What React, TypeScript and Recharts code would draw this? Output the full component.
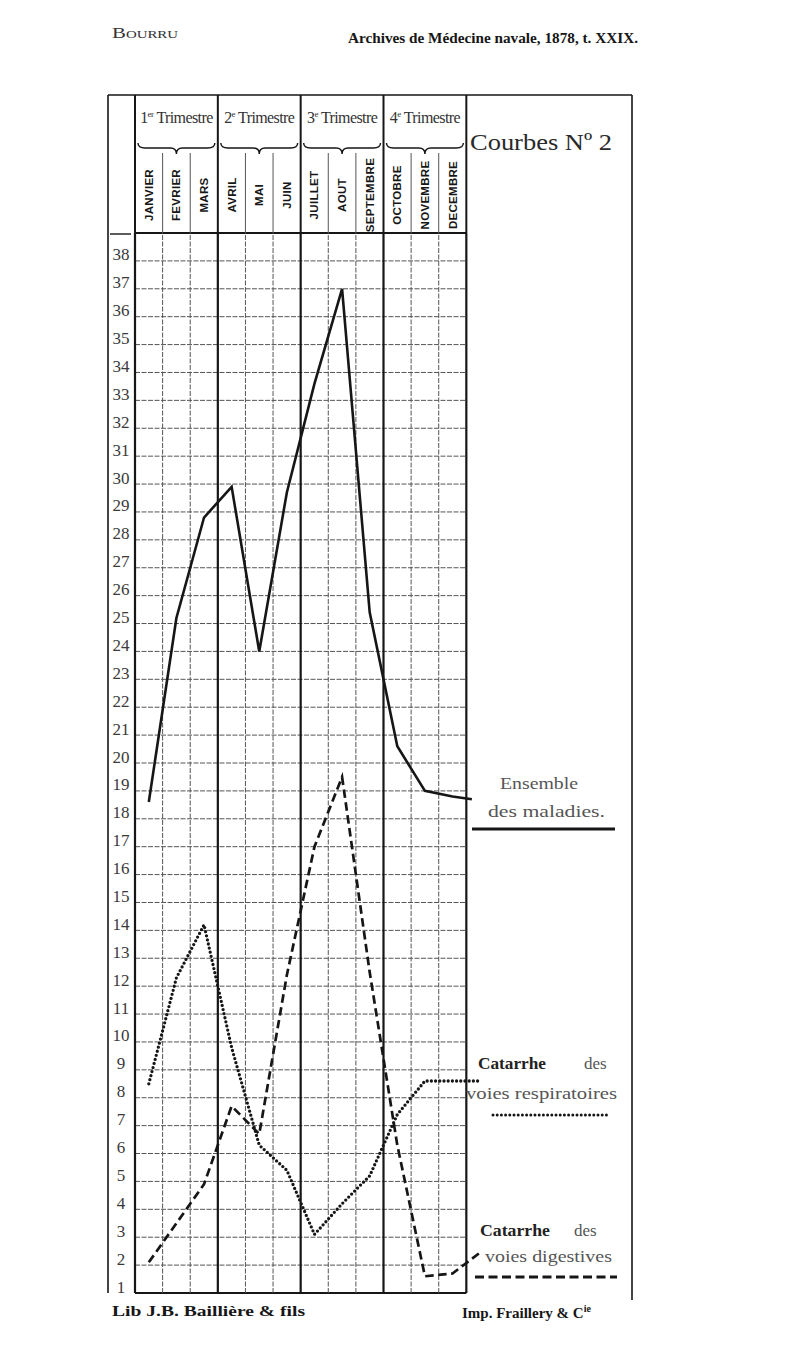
import React from 'react';
import { LineChart, Line, XAxis, YAxis, ReferenceLine } from 'recharts';

// --- data ---
const months = [
  'JANVIER', 'FEVRIER', 'MARS', 'AVRIL', 'MAI', 'JUIN',
  'JUILLET', 'AOUT', 'SEPTEMBRE', 'OCTOBRE', 'NOVEMBRE', 'DECEMBRE',
];
const quarterNums = ['1', '2', '3', '4'];
const quarterSups = ['er', 'e', 'e', 'e'];

const ensemble = [18.6, 25.2, 28.8, 29.9, 24.0, 29.7, 33.6, 37.0, 25.4, 20.6, 19.0, 18.8];
const respiratoires = [8.5, 12.3, 14.2, 9.8, 6.3, 5.4, 3.1, 4.2, 5.2, 7.4, 8.6, 8.6];
const digestives = [2.1, 3.5, 4.9, 7.7, 6.7, 12.4, 17.0, 19.5, 12.5, 6.3, 1.6, 1.7];

// short leads running from December out toward the legend captions
const leadX = [12.2, 12.45, 12.5];
const leadValues = [18.7, 8.6, 2.45];

const yTicks = [
  1, 2, 3, 4, 5, 6, 7, 8, 9, 10, 11, 12, 13, 14, 15, 16, 17, 18, 19,
  20, 21, 22, 23, 24, 25, 26, 27, 28, 29, 30, 31, 32, 33, 34, 35, 36, 37, 38,
];

// --- layout ---
const W = 800;
const H = 1364;
const MARGIN = { top: 95, right: 168, bottom: 71, left: 108 };
const Y_AXIS_W = 27;
const HEADER_H = 138;
const X_MAX = 18;
const Y_MIN = 1;
const Y_MAX = 39;
const PLOT_W = W - MARGIN.left - Y_AXIS_W - MARGIN.right;
const INK = '#161616';
const GRID = '#555';
const SERIF = '"Liberation Serif", "DejaVu Serif", serif';

const monthRows = months.map((m, i) => ({
  x: i + 0.5,
  ensemble: ensemble[i],
  resp: respiratoires[i],
  dig: digestives[i],
}));
const leadRows = [
  { x: leadX[0], ensemble: leadValues[0] },
  { x: leadX[1], resp: leadValues[1] },
  { x: leadX[2], dig: leadValues[2] },
];
const data = [...monthRows, ...leadRows];
const monthTicks = months.map((_, i) => i + 0.5);
const boundaries = months.map((_, i) => i).concat(months.length);

const styles = {
  ensemble: { strokeWidth: 2.6 },
  resp: { strokeWidth: 3.3, strokeDasharray: '0 4.2', strokeLinecap: 'round' as const },
  dig: { strokeWidth: 2.7, strokeDasharray: '8.5 4.5' },
};

function brace(x0: number, x1: number, y: number) {
  const xm = (x0 + x1) / 2;
  return `M${x0},${y} Q${x0},${y + 5} ${x0 + 7},${y + 5} L${xm - 6},${y + 5} Q${xm},${y + 5} ${xm},${y + 11} Q${xm},${y + 5} ${xm + 6},${y + 5} L${x1 - 7},${y + 5} Q${x1},${y + 5} ${x1},${y}`;
}

function MonthTick(props: any) {
  const { x, y, index } = props;
  const colW = PLOT_W / X_MAX;
  const top = y - HEADER_H;
  const left = x - colW / 2;
  const q = Math.floor(index / 3);
  const cy = y - 38;
  return (
    <g>
      {index % 3 === 0 ? (
        <line x1={left} x2={left} y1={top} y2={y} stroke={INK} strokeWidth={2} />
      ) : (
        <line x1={left} x2={left} y1={y - 80} y2={y} stroke={GRID} strokeWidth={1} />
      )}
      {index === months.length - 1 && (
        <line x1={x + colW / 2} x2={x + colW / 2} y1={top} y2={y} stroke={INK} strokeWidth={2} />
      )}
      <text
        x={x}
        y={cy}
        transform={`rotate(-90 ${x} ${cy})`}
        textAnchor="middle"
        dominantBaseline="central"
        fontFamily='"Liberation Sans", Arial, sans-serif'
        fontWeight="bold"
        fontSize={11.5}
        letterSpacing={0.3}
        fill={INK}
      >
        {months[index]}
      </text>
      {index % 3 === 1 && (
        <g>
          <text x={x} y={y - 110} textAnchor="middle" fontFamily={SERIF} fontSize={16} fill="#333" letterSpacing={-0.6}>
            {quarterNums[q]}
            <tspan fontSize={9} dy={-6}>{quarterSups[q]}</tspan>
            <tspan dy={6}> Trimestre</tspan>
          </text>
          <path d={brace(x - 1.5 * colW + 3, x + 1.5 * colW - 3, y - 90)} fill="none" stroke={INK} strokeWidth={1.4} />
        </g>
      )}
    </g>
  );
}

function NumTick(props: any) {
  const { x, y, payload } = props;
  return (
    <text x={x - 14} y={y - 6} textAnchor="middle" dominantBaseline="central" fontFamily={SERIF} fontSize={17} fill="#3a3a3a">
      {payload.value}
    </text>
  );
}

function Decorations() {
  const text = { fontFamily: SERIF, fill: INK } as const;
  const light = { fontFamily: SERIF, fill: '#555' } as const;
  return (
    <svg width={W} height={H} style={{ position: 'absolute', left: 0, top: 0, pointerEvents: 'none' }}>
      {/* running head */}
      <text x={112} y={38} fontSize={14} style={{ fontVariant: 'small-caps' }} {...text} fill="#333" textLength={66} lengthAdjust="spacingAndGlyphs">Bourru</text>
      <text x={348} y={43} fontSize={14} fontWeight="bold" {...text} textLength={290} lengthAdjust="spacingAndGlyphs">
        Archives de Médecine navale, 1878, t. XXIX.
      </text>

      {/* outer frame */}
      <line x1={108} x2={632} y1={95} y2={95} stroke={INK} strokeWidth={1.6} />
      <line x1={108} x2={108} y1={95} y2={1293} stroke={INK} strokeWidth={1.6} />
      <line x1={632} x2={632} y1={95} y2={1300} stroke={INK} strokeWidth={1.6} />
      <line x1={110} x2={131} y1={234} y2={234} stroke={INK} strokeWidth={1.4} />

      <text x={470} y={150} fontSize={24} {...text} fill="#2a2a2a" textLength={142} lengthAdjust="spacingAndGlyphs">
        Courbes Nº 2
      </text>

      {/* captions */}
      <text x={500} y={789} fontSize={17} {...light} textLength={78} lengthAdjust="spacingAndGlyphs">Ensemble</text>
      <text x={488} y={817} fontSize={17} {...light} textLength={117} lengthAdjust="spacingAndGlyphs">des maladies.</text>
      <line x1={472} x2={615} y1={829} y2={829} stroke={INK} strokeWidth={3} />

      <text x={478} y={1069} fontSize={17} {...text} fontWeight="600" fill="#222" textLength={68} lengthAdjust="spacingAndGlyphs">Catarrhe</text>
      <text x={584} y={1069} fontSize={17} {...light}>des</text>
      <text x={466} y={1099} fontSize={17} {...light} textLength={151} lengthAdjust="spacingAndGlyphs">voies respiratoires</text>
      <line x1={493} x2={607} y1={1115} y2={1115} stroke={INK} strokeWidth={3} strokeDasharray="0 4.2" strokeLinecap="round" />

      <text x={480} y={1236} fontSize={17} {...text} fontWeight="600" fill="#222" textLength={70} lengthAdjust="spacingAndGlyphs">Catarrhe</text>
      <text x={574} y={1236} fontSize={17} {...light}>des</text>
      <text x={485} y={1262} fontSize={17} {...light} textLength={127} lengthAdjust="spacingAndGlyphs">voies digestives</text>
      <line x1={475} x2={617} y1={1277} y2={1277} stroke={INK} strokeWidth={3} strokeDasharray="9 4.5" />

      {/* imprint */}
      <text x={112} y={1316} fontSize={15} fontWeight="bold" {...text} textLength={193} lengthAdjust="spacingAndGlyphs">
        Lib J.B. Baillière &amp; fils
      </text>
      <text x={462} y={1318} fontSize={15} fontWeight="bold" {...text}>
        Imp. Fraillery &amp; C<tspan fontSize={10} dy={-6}>ie</tspan>
      </text>
    </svg>
  );
}

export default function App() {
  return (
    <div style={{ position: 'absolute', left: 0, top: 0, width: W, height: H, background: '#fff' }}>
      <div style={{ position: 'absolute', left: 0, top: 0 }}>
        <LineChart width={W} height={H} data={data} margin={MARGIN}>
          <XAxis
            type="number"
            dataKey="x"
            domain={[0, X_MAX]}
            ticks={monthTicks}
            interval={0}
            orientation="top"
            height={HEADER_H}
            axisLine={false}
            tickLine={false}
            tickSize={0}
            tickMargin={0}
            tick={<MonthTick />}
          />
          <YAxis
            type="number"
            domain={[Y_MIN, Y_MAX]}
            ticks={yTicks}
            interval={0}
            width={Y_AXIS_W}
            axisLine={false}
            tickLine={false}
            tickSize={0}
            tickMargin={0}
            tick={<NumTick />}
          />
          {yTicks.concat(Y_MAX).map((v) => (
            <ReferenceLine
              key={`h${v}`}
              segment={[{ x: 0, y: v }, { x: months.length, y: v }]}
              stroke={v === Y_MIN || v === Y_MAX ? INK : GRID}
              strokeWidth={v === Y_MIN || v === Y_MAX ? 2 : 1}
              strokeDasharray={v === Y_MIN || v === Y_MAX ? undefined : '5 1.5'}
            />
          ))}
          {boundaries.map((k) => (
            <ReferenceLine
              key={`v${k}`}
              segment={[{ x: k, y: Y_MIN }, { x: k, y: Y_MAX }]}
              stroke={k % 3 === 0 ? INK : GRID}
              strokeWidth={k % 3 === 0 ? 2.2 : 1}
              strokeDasharray={k % 3 === 0 ? undefined : '5 1.5'}
            />
          ))}
          <Line type="linear" dataKey="ensemble" stroke={INK} {...styles.ensemble} dot={false} connectNulls isAnimationActive={false} />
          <Line type="linear" dataKey="resp" stroke={INK} {...styles.resp} dot={false} connectNulls isAnimationActive={false} />
          <Line type="linear" dataKey="dig" stroke={INK} {...styles.dig} dot={false} connectNulls isAnimationActive={false} />
        </LineChart>
      </div>
      <Decorations />
    </div>
  );
}
